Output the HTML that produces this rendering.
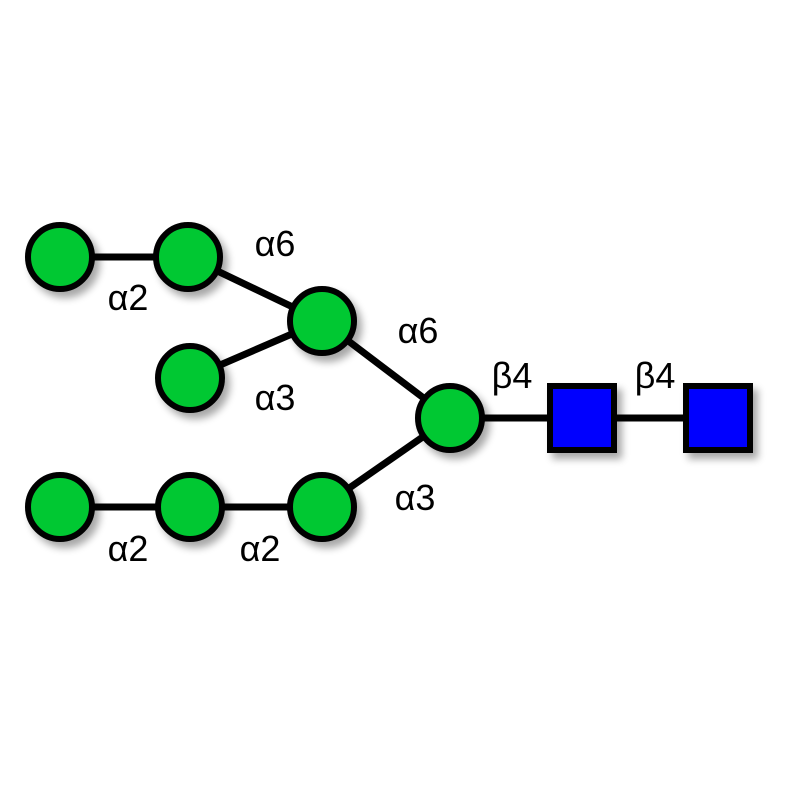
<!DOCTYPE html>
<html><head><meta charset="utf-8"><style>html,body{margin:0;padding:0;background:#fff}</style></head>
<body>
<svg width="800" height="800" viewBox="0 0 800 800" xmlns="http://www.w3.org/2000/svg">
<defs>
<filter id="sh" x="-30%" y="-30%" width="170%" height="170%">
<feGaussianBlur in="SourceAlpha" stdDeviation="4"/>
<feOffset dx="5" dy="6" result="b"/>
<feComponentTransfer><feFuncA type="linear" slope="0.35"/></feComponentTransfer>
<feMerge><feMergeNode/><feMergeNode in="SourceGraphic"/></feMerge>
</filter>
</defs>
<g stroke="#000" stroke-width="7">
<line x1="60" y1="257" x2="188" y2="257"/>
<line x1="188" y1="257" x2="322" y2="321"/>
<line x1="190" y1="378" x2="322" y2="321"/>
<line x1="322" y1="321" x2="450" y2="418"/>
<line x1="60" y1="507" x2="322" y2="507"/>
<line x1="322" y1="507" x2="450" y2="418"/>
<line x1="450" y1="418" x2="718" y2="418"/>
</g>
<g fill="#00c832" stroke="#000" stroke-width="6" filter="url(#sh)">
<circle cx="60" cy="257" r="32"/>
<circle cx="188" cy="257" r="32"/>
<circle cx="322" cy="321" r="32"/>
<circle cx="190" cy="378" r="32"/>
<circle cx="450" cy="418" r="32"/>
<circle cx="60" cy="507" r="32"/>
<circle cx="190" cy="507" r="32"/>
<circle cx="322" cy="507" r="32"/>
</g>
<g fill="#0000ff" stroke="#000" stroke-width="6" filter="url(#sh)">
<rect x="550" y="386" width="64" height="64"/>
<rect x="686" y="386" width="64" height="64"/>
</g>
<g font-family="Liberation Sans, DejaVu Sans, sans-serif" font-size="36" fill="#000" text-anchor="middle">
<text x="275" y="256">α6</text>
<text x="128" y="310">α2</text>
<text x="418" y="343">α6</text>
<text x="275" y="410">α3</text>
<text x="512" y="388">β4</text>
<text x="655" y="388">β4</text>
<text x="415" y="510">α3</text>
<text x="128" y="561">α2</text>
<text x="260" y="561">α2</text>
</g>
</svg>
</body></html>
